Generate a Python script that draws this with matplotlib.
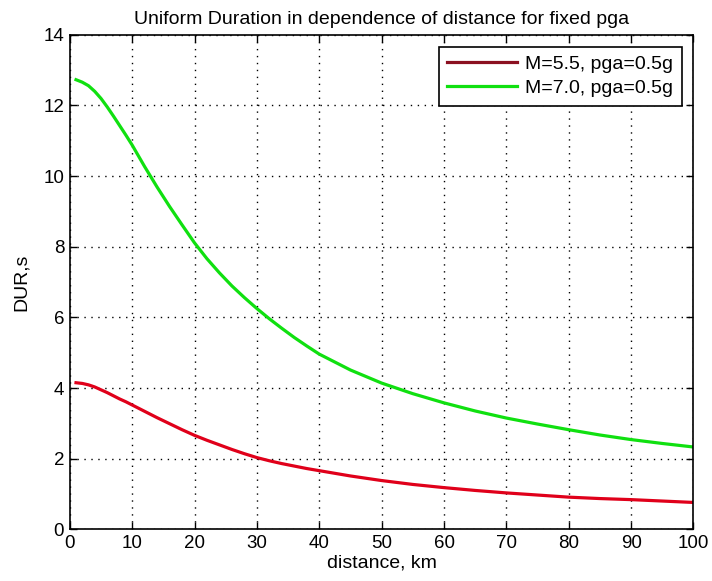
import matplotlib
matplotlib.use("Agg")
import matplotlib.pyplot as plt
from matplotlib import font_manager

names = {f.name for f in font_manager.fontManager.ttflist}
fam = [n for n in ["Liberation Sans Narrow", "Liberation Sans", "DejaVu Sans"] if n in names]
plt.rcParams['font.family'] = fam

distance = [1, 2, 3, 4, 5, 6, 7, 8, 9, 10, 12, 14, 16, 18, 20, 22, 24, 26, 28, 30,
            32, 34, 36, 38, 40, 45, 50, 55, 60, 65, 70, 75, 80, 85, 90, 95, 100]
dur_m55 = [4.15, 4.13, 4.09, 4.03, 3.95, 3.87, 3.78, 3.69, 3.61, 3.52, 3.34, 3.16, 2.99, 2.82, 2.66,
           2.52, 2.39, 2.26, 2.14, 2.03, 1.94, 1.86, 1.79, 1.72, 1.66, 1.51, 1.38, 1.27, 1.18, 1.10,
           1.03, 0.97, 0.91, 0.87, 0.84, 0.80, 0.76]
dur_m70 = [12.73, 12.66, 12.56, 12.40, 12.20, 11.96, 11.70, 11.43, 11.16, 10.88, 10.27, 9.69, 9.14,
           8.62, 8.11, 7.66, 7.26, 6.89, 6.56, 6.25, 5.96, 5.69, 5.43, 5.19, 4.96, 4.51, 4.14, 3.84,
           3.58, 3.35, 3.15, 2.98, 2.82, 2.67, 2.54, 2.43, 2.33]

labels = ["M=5.5, pga=0.5g", "M=7.0, pga=0.5g"]
title = "Uniform Duration in dependence of distance for fixed pga"
xlabel = "distance, km"
ylabel = "DUR,s"
xticks = list(range(0, 101, 10))
yticks = list(range(0, 15, 2))

fig = plt.figure(figsize=(7.12, 5.81), dpi=100)
ax = fig.add_axes([0.098, 0.089, 0.876, 0.851])

ax.plot(distance, dur_m55, color='#e0001a', lw=2.3, label=labels[0])
ax.plot(distance, dur_m70, color='#10e010', lw=2.3, label=labels[1])

ax.set_xlim(0, 100)
ax.set_ylim(0, 14)
ax.set_xticks(xticks)
ax.set_yticks(yticks)
ax.tick_params(direction='in', top=True, right=True, labelsize=13.5, length=5, width=1, pad=4)
ax.grid(True, color='black', linestyle=(0, (1, 4)), linewidth=1.0)
for s in ax.spines.values():
    s.set_linewidth(1.2)

ax.set_title(title, fontsize=14, pad=8)
ax.set_xlabel(xlabel, fontsize=14, labelpad=2)
ax.set_ylabel(ylabel, fontsize=14, labelpad=10)

leg = ax.legend(loc='upper right', fontsize=14, frameon=True, fancybox=False,
                edgecolor='black', framealpha=1, handlelength=3.6, borderaxespad=0.6,
                labelspacing=0.35, handletextpad=0.4, borderpad=0.45)
leg.get_frame().set_linewidth(1.2)
leg.get_lines()[0].set_color('#8b1020')

fig.savefig("out.png", dpi=100)
